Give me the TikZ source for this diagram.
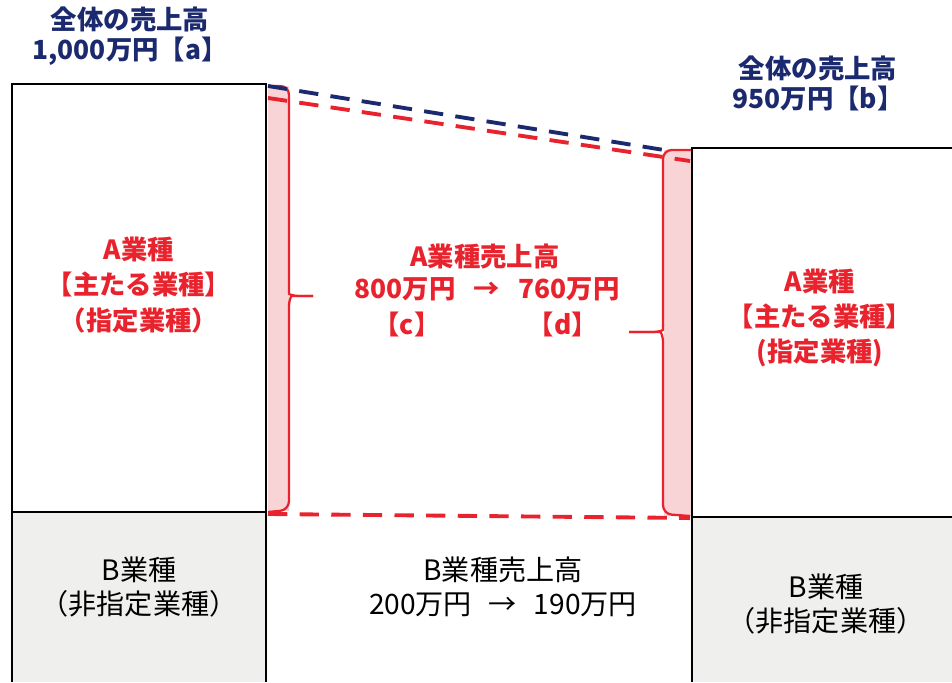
\documentclass[tikz,border=0pt]{standalone}
\usepackage{fontspec}
\setmainfont{Noto Sans CJK JP}
\definecolor{navytext}{RGB}{27,42,110}
\definecolor{salesred}{RGB}{232,35,45}
\definecolor{barpink}{RGB}{248,212,215}
\definecolor{boxgray}{RGB}{239,239,237}
\tikzset{
  box/.style={line width=1.4pt, black},
  total/.style={align=center, text=navytext, font=\bfseries\fontsize{15}{17}\selectfont},
  redlbl/.style={align=center, text=salesred, font=\bfseries\fontsize{15}{20}\selectfont},
  blacklbl/.style={align=center, text=black, font=\fontsize{16}{19}\selectfont},
  bracket/.style={salesred, line width=1.3pt},
  guide/.style={line width=2.2pt, dash pattern=on 11pt off 7pt}
}
\begin{document}
\begin{tikzpicture}[x=0.02cm, y=-0.02cm]
        \useasboundingbox (0,0) rectangle (952,682);

        % Define corners
        \coordinate (LTL) at (12,84);
        \coordinate (LTR) at (266,84);
        \coordinate (LML) at (12,512);
        \coordinate (LMR) at (266,512);
        \coordinate (RTL) at (692,148);
        \coordinate (RTR) at (952,148);
        \coordinate (RML) at (692,517);
        \coordinate (RMR) at (952,517);

        % Gray lower parts
        \fill[boxgray] (LML) rectangle (266,682);
        \fill[boxgray] (RML) rectangle (952,682);

        % Pink bars
        \fill[barpink] (268,86) rectangle (289,511);
        \fill[barpink] (664,150) rectangle (691,516);

        % Draw boxes
        \draw[box] (12,682) -- (LTL) -- (LTR) -- (266,682);
        \draw[box] (LML) -- (LMR);
        \draw[box] (692,682) -- (RTL) -- (RTR);
        \draw[box] (RML) -- (RMR);

        % Brackets
        \coordinate (tipC) at (313,296);
        \coordinate (tipD) at (629,332);
        \draw[bracket, rounded corners=5pt] (268,86) -- (289,86) -- (289,285)
          [sharp corners] .. controls (289,294) and (292,296) .. (300,296) -- (tipC);
        \draw[bracket, rounded corners=5pt] (tipC) -- (300,296)
          [sharp corners] .. controls (292,296) and (289,298) .. (289,307)
          [rounded corners=5pt] -- (289,510) -- (268,512);
        \draw[bracket, rounded corners=5pt] (691,150) -- (663,150) -- (663,321)
          [sharp corners] .. controls (663,330) and (660,332) .. (652,332) -- (tipD);
        \draw[bracket, rounded corners=5pt] (tipD) -- (652,332)
          [sharp corners] .. controls (660,332) and (663,334) .. (663,343)
          [rounded corners=5pt] -- (663,514) -- (690,516);

        % Dashed guides
        \draw[guide, navytext] (268,86) -- (664,150);
        \draw[guide, salesred] (268,98) -- (690,161);
        \draw[guide, salesred] (268,514) -- (690,518);

        % Totals
        \node[total] (totalA) at (130,36) {全体の売上高\\1,000万円【a】};
        \node[total] (totalB) at (818,83) {全体の売上高\\950万円【b】};

        % A labels
        \node[redlbl] (segAleft) at (139,285) {A業種\\【主たる業種】\\（指定業種）};
        \node[redlbl] (segAright) at (820,318) {A業種\\【主たる業種】\\(指定業種)};
        \node[redlbl] (salesA) at (485,257) {A業種売上高};
        \node[redlbl] (salesArow) at (487,289) {800万円\hspace{0.7em}→\hspace{0.7em}760万円};
        \node[redlbl] (markC) at (407,324) {【c】};
        \node[redlbl] (markD) at (563,324) {【d】};

        % B labels
        \node[blacklbl] (segBleft) at (139,587) {B業種\\（非指定業種）};
        \node[blacklbl] (salesB) at (503,587) {B業種売上高\\200万円\hspace{0.6em}→\hspace{0.6em}190万円};
        \node[blacklbl] (segBright) at (826,604) {B業種\\（非指定業種）};
\end{tikzpicture}
\end{document}
